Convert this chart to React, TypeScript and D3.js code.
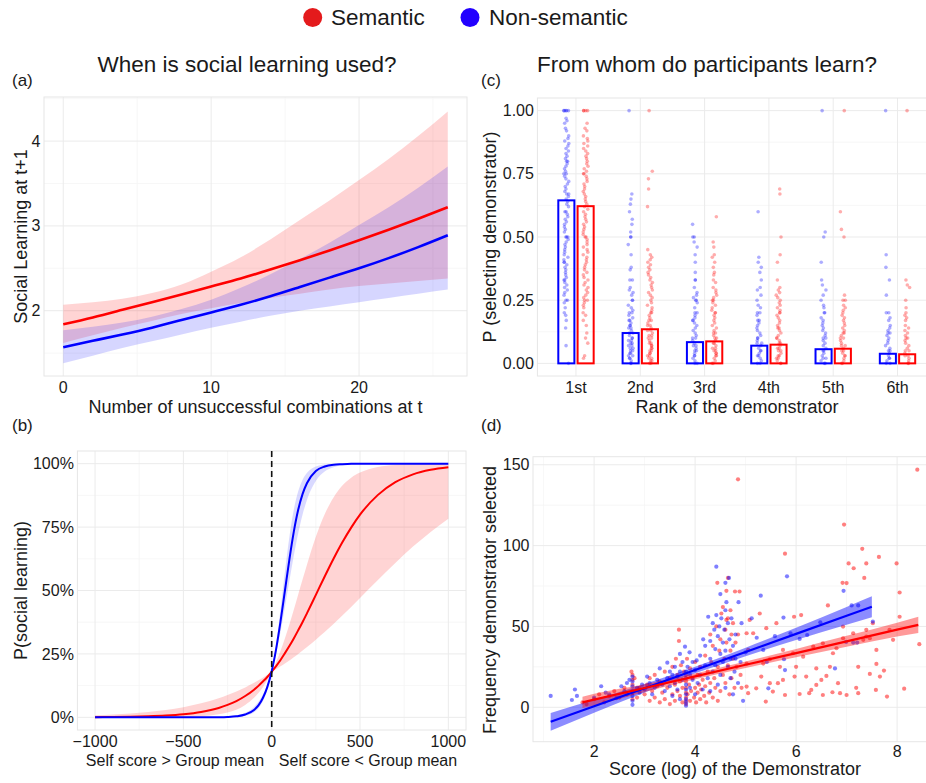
import React from 'react';
import * as d3 from 'd3';

const W = 926, H = 783;
const RED = '#ff0000', BLUE = '#0000ff';
const FONT = "'Liberation Sans', Arial, Helvetica, sans-serif";
const TXT = '#1a1a1a';
const GRID = '#ebebeb', GRID_MINOR = '#f5f5f5', BORDER = '#e6e6e6';

// ---------- legend / titles ----------
const legendLabels = ['Semantic', 'Non-semantic'];
const legendColors = ['#e41a1c', '#2200ff'];
const panelTitles = ['When is social learning used?', 'From whom do participants learn?'];

// ---------- (a) ----------
const aX = [0, 2, 4, 6, 8, 10, 12, 14, 16, 18, 20, 22, 24, 26];
const aRedFit = [1.84, 1.92, 2.01, 2.10, 2.19, 2.285, 2.38, 2.485, 2.595, 2.71, 2.83, 2.955, 3.085, 3.22];
const aRedLo = [1.62, 1.71, 1.80, 1.88, 1.96, 2.03, 2.09, 2.15, 2.20, 2.25, 2.29, 2.32, 2.35, 2.38];
const aRedHi = [2.07, 2.10, 2.14, 2.21, 2.31, 2.46, 2.63, 2.84, 3.07, 3.30, 3.54, 3.79, 4.06, 4.35];
const aBlueFit = [1.57, 1.645, 1.72, 1.80, 1.89, 1.98, 2.07, 2.17, 2.28, 2.39, 2.50, 2.62, 2.75, 2.89];
const aBlueLo = [1.38, 1.47, 1.56, 1.64, 1.72, 1.80, 1.87, 1.94, 2.00, 2.05, 2.10, 2.15, 2.20, 2.25];
const aBlueHi = [1.77, 1.81, 1.86, 1.93, 2.02, 2.13, 2.27, 2.43, 2.61, 2.80, 3.01, 3.22, 3.45, 3.70];
const aXTicks = [0, 10, 20];
const aYTicks = [2, 3, 4];

// ---------- (b) ----------
const bX = [-1000, -900, -800, -700, -600, -500, -400, -300, -250, -200, -150, -100, -75, -50, -25, 0, 25, 50, 75, 100, 125, 150, 175, 200, 250, 300, 350, 400, 450, 500, 600, 700, 800, 900, 1000];
const bRedFit = [0.0007, 0.0012, 0.0021, 0.0038, 0.0067, 0.0119, 0.021, 0.037, 0.049, 0.064, 0.084, 0.109, 0.124, 0.141, 0.159, 0.180, 0.202, 0.226, 0.253, 0.281, 0.311, 0.343, 0.376, 0.411, 0.483, 0.555, 0.625, 0.690, 0.748, 0.799, 0.876, 0.927, 0.958, 0.976, 0.986];
const bRedHi = [0.008, 0.011, 0.015, 0.021, 0.029, 0.040, 0.055, 0.075, 0.088, 0.102, 0.118, 0.136, 0.146, 0.156, 0.168, 0.180, 0.218, 0.262, 0.312, 0.366, 0.424, 0.484, 0.544, 0.603, 0.712, 0.801, 0.867, 0.914, 0.945, 0.965, 0.987, 0.995, 0.998, 0.999, 1.0];
const bRedLo = [0, 0, 0.0001, 0.0002, 0.0006, 0.0017, 0.0045, 0.0118, 0.019, 0.030, 0.049, 0.077, 0.096, 0.119, 0.146, 0.180, 0.190, 0.201, 0.212, 0.224, 0.237, 0.250, 0.263, 0.277, 0.306, 0.336, 0.368, 0.401, 0.435, 0.470, 0.540, 0.608, 0.673, 0.731, 0.783];
const bBlueFit = [0, 0, 0, 0, 0, 0, 0.0001, 0.0006, 0.0015, 0.0041, 0.011, 0.029, 0.047, 0.076, 0.119, 0.182, 0.269, 0.378, 0.5, 0.622, 0.731, 0.818, 0.881, 0.924, 0.971, 0.989, 0.996, 0.998, 0.9995, 1, 1, 1, 1, 1, 1];
const bBlueHi = [0, 0, 0, 0, 0, 0.0001, 0.0003, 0.0016, 0.0036, 0.0082, 0.018, 0.041, 0.061, 0.089, 0.129, 0.182, 0.289, 0.426, 0.574, 0.711, 0.818, 0.891, 0.937, 0.964, 0.989, 0.997, 0.999, 1, 1, 1, 1, 1, 1, 1, 1];
const bBlueLo = [0, 0, 0, 0, 0, 0, 0, 0.0002, 0.0006, 0.0018, 0.006, 0.020, 0.036, 0.063, 0.109, 0.182, 0.252, 0.337, 0.435, 0.537, 0.637, 0.726, 0.800, 0.858, 0.932, 0.969, 0.986, 0.994, 0.997, 0.999, 1, 1, 1, 1, 1];
const bXTicks = [-1000, -500, 0, 500, 1000];
const bYTicks = [0, 0.25, 0.5, 0.75, 1];
const bSideLabels = ['Self score > Group mean', 'Self score < Group mean'];

// ---------- (c) ----------
const cRanks = ['1st', '2nd', '3rd', '4th', '5th', '6th'];
const cBlueMean = [0.645, 0.12, 0.084, 0.07, 0.056, 0.038];
const cRedMean = [0.622, 0.135, 0.087, 0.074, 0.058, 0.036];
const cBluePts = [
  [1, 1, 1, 1, 1, 0.97, 0.96, 0.95, 0.93, 0.92, 0.9, 0.89, 0.88, 0.87, 0.86, 0.85, 0.84, 0.83, 0.82, 0.81, 0.8, 0.8, 0.79, 0.78, 0.77, 0.76, 0.75, 0.75, 0.74, 0.73, 0.72, 0.71, 0.7, 0.69, 0.68, 0.67, 0.67, 0.66, 0.65, 0.64, 0.63, 0.62, 0.6, 0.6, 0.59, 0.58, 0.57, 0.56, 0.55, 0.54, 0.53, 0.52, 0.5, 0.5, 0.5, 0.49, 0.48, 0.47, 0.46, 0.45, 0.44, 0.43, 0.42, 0.41, 0.4, 0.4, 0.39, 0.38, 0.37, 0.36, 0.35, 0.34, 0.33, 0.33, 0.32, 0.31, 0.3, 0.29, 0.28, 0.27, 0.25, 0.25, 0.24, 0.22, 0.2, 0.19, 0.17, 0.14, 0.07, 0],
  [1, 0.67, 0.65, 0.63, 0.6, 0.57, 0.55, 0.52, 0.5, 0.5, 0.47, 0.43, 0.38, 0.37, 0.33, 0.33, 0.3, 0.29, 0.28, 0.27, 0.25, 0.25, 0.23, 0.22, 0.21, 0.2, 0.2, 0.19, 0.18, 0.17, 0.17, 0.16, 0.15, 0.15, 0.14, 0.14, 0.13, 0.12, 0.12, 0.11, 0.1, 0.1, 0.09, 0.09, 0.08, 0.08, 0.07, 0.07, 0.06, 0.06, 0.05, 0.05, 0.04, 0.04, 0.03, 0.03, 0.02, 0.02, 0.01, 0, 0],
  [0.55, 0.5, 0.5, 0.48, 0.46, 0.43, 0.4, 0.36, 0.33, 0.33, 0.3, 0.28, 0.27, 0.26, 0.25, 0.25, 0.24, 0.22, 0.2, 0.2, 0.19, 0.18, 0.17, 0.17, 0.16, 0.15, 0.14, 0.13, 0.12, 0.11, 0.1, 0.1, 0.09, 0.08, 0.07, 0.07, 0.06, 0.05, 0.05, 0.04, 0.03, 0.03, 0.02, 0.01, 0, 0],
  [0.6, 0.42, 0.4, 0.38, 0.36, 0.33, 0.3, 0.29, 0.27, 0.25, 0.23, 0.22, 0.2, 0.2, 0.19, 0.17, 0.17, 0.16, 0.15, 0.14, 0.13, 0.12, 0.11, 0.1, 0.1, 0.09, 0.08, 0.08, 0.07, 0.06, 0.05, 0.05, 0.04, 0.03, 0.03, 0.02, 0.01, 0, 0],
  [1, 0.52, 0.5, 0.4, 0.33, 0.31, 0.29, 0.27, 0.25, 0.23, 0.22, 0.2, 0.2, 0.18, 0.17, 0.16, 0.15, 0.14, 0.13, 0.12, 0.11, 0.1, 0.1, 0.09, 0.08, 0.07, 0.06, 0.05, 0.05, 0.04, 0.03, 0.02, 0.02, 0.01, 0, 0],
  [1, 0.43, 0.38, 0.33, 0.27, 0.2, 0.2, 0.18, 0.17, 0.15, 0.14, 0.13, 0.12, 0.12, 0.11, 0.1, 0.09, 0.08, 0.07, 0.06, 0.05, 0.05, 0.04, 0.03, 0.02, 0.02, 0.01, 0, 0],
];
const cRedPts = [
  [1, 1, 1, 1, 0.95, 0.93, 0.92, 0.9, 0.89, 0.88, 0.87, 0.86, 0.85, 0.84, 0.83, 0.82, 0.81, 0.8, 0.79, 0.78, 0.77, 0.76, 0.75, 0.75, 0.74, 0.73, 0.72, 0.71, 0.7, 0.69, 0.68, 0.67, 0.66, 0.65, 0.64, 0.63, 0.62, 0.61, 0.6, 0.59, 0.58, 0.57, 0.56, 0.55, 0.54, 0.53, 0.52, 0.51, 0.5, 0.5, 0.49, 0.48, 0.47, 0.46, 0.45, 0.44, 0.43, 0.42, 0.41, 0.4, 0.39, 0.38, 0.37, 0.36, 0.35, 0.34, 0.33, 0.32, 0.31, 0.3, 0.29, 0.28, 0.27, 0.26, 0.25, 0.25, 0.24, 0.23, 0.22, 0.2, 0.19, 0.17, 0.15, 0.12, 0.1, 0.08, 0.03, 0.02],
  [1, 0.76, 0.73, 0.69, 0.62, 0.45, 0.43, 0.42, 0.41, 0.4, 0.39, 0.38, 0.37, 0.36, 0.35, 0.34, 0.33, 0.32, 0.31, 0.3, 0.29, 0.28, 0.27, 0.26, 0.25, 0.24, 0.23, 0.22, 0.21, 0.2, 0.2, 0.19, 0.18, 0.17, 0.17, 0.16, 0.15, 0.15, 0.14, 0.13, 0.13, 0.12, 0.11, 0.11, 0.1, 0.1, 0.09, 0.08, 0.08, 0.07, 0.07, 0.06, 0.06, 0.05, 0.05, 0.04, 0.04, 0.03, 0.03, 0.02, 0.02, 0.01, 0.01, 0, 0],
  [0.58, 0.48, 0.46, 0.43, 0.42, 0.4, 0.38, 0.36, 0.35, 0.33, 0.32, 0.3, 0.29, 0.28, 0.27, 0.26, 0.25, 0.25, 0.24, 0.23, 0.22, 0.21, 0.2, 0.2, 0.19, 0.18, 0.17, 0.16, 0.15, 0.14, 0.13, 0.12, 0.12, 0.11, 0.1, 0.1, 0.09, 0.08, 0.08, 0.07, 0.06, 0.06, 0.05, 0.05, 0.04, 0.04, 0.03, 0.03, 0.02, 0.01, 0, 0],
  [0.69, 0.67, 0.5, 0.43, 0.4, 0.33, 0.3, 0.29, 0.28, 0.27, 0.26, 0.25, 0.24, 0.23, 0.22, 0.21, 0.2, 0.2, 0.19, 0.18, 0.17, 0.16, 0.15, 0.14, 0.14, 0.13, 0.12, 0.11, 0.1, 0.1, 0.09, 0.08, 0.08, 0.07, 0.06, 0.06, 0.05, 0.05, 0.04, 0.03, 0.03, 0.02, 0.02, 0.01, 0, 0],
  [1, 0.6, 0.53, 0.5, 0.27, 0.25, 0.25, 0.23, 0.22, 0.21, 0.2, 0.19, 0.18, 0.17, 0.16, 0.15, 0.14, 0.13, 0.12, 0.12, 0.11, 0.1, 0.1, 0.09, 0.08, 0.07, 0.07, 0.06, 0.05, 0.05, 0.04, 0.03, 0.03, 0.02, 0.01, 0, 0],
  [1, 0.33, 0.31, 0.3, 0.25, 0.22, 0.2, 0.19, 0.18, 0.17, 0.15, 0.14, 0.13, 0.12, 0.11, 0.1, 0.1, 0.09, 0.08, 0.07, 0.06, 0.05, 0.05, 0.04, 0.03, 0.03, 0.02, 0.01, 0, 0],
];
const cYTicks = [0, 0.25, 0.5, 0.75, 1];

// ---------- (d) ----------
const dBluePts: [number, number][] = [
  [1.14, 7], [1.56, 4.5], [1.62, 11], [1.66, 7], [2.0, 6], [2.14, 13], [2.23, 9], [2.3, 8], [2.44, 5.6], [2.54, 13], [2.6, 10], [2.65, 15], [2.7, 17],
  [2.76, 1.5], [2.76, 4], [2.76, 7], [2.76, 10], [2.76, 13], [2.76, 16], [2.76, 19],
  [2.85, 12], [2.9, 9], [2.95, 14], [3.0, 11], [3.05, 19], [3.1, 15], [3.15, 8], [3.2, 12], [3.25, 17], [3.3, 24], [3.35, 14], [3.4, 10], [3.45, 27.6], [3.45, 18], [3.5, 22], [3.5, 13], [3.55, 7], [3.55, 20], [3.6, 15], [3.6, 25], [3.65, 11], [3.65, 19], [3.7, 33], [3.7, 22], [3.7, 5], [3.75, 17], [3.75, 28],
  [3.82, 1], [3.82, 3], [3.82, 5], [3.82, 8], [3.82, 11], [3.82, 14], [3.82, 18], [3.82, 22],
  [3.8, 37.5], [3.85, 25], [3.89, 34], [3.9, 20], [3.9, 12], [3.95, 17], [3.95, 28], [4.0, 23], [4.0, 8], [4.03, 29], [4.05, 15], [4.1, 32], [4.1, 20], [4.15, 11], [4.16, 42], [4.2, 26], [4.2, 38], [4.25, 18], [4.26, 56], [4.3, 41], [4.3, 30], [4.3, 10], [4.35, 52], [4.35, 22], [4.38, 48], [4.4, 36], [4.4, 26], [4.42, 87], [4.42, 57], [4.45, 44], [4.45, 14], [4.48, 50], [4.5, 70], [4.5, 33], [4.5, 20], [4.52, 55], [4.55, 40], [4.55, 28], [4.58, 48], [4.6, 77], [4.6, 60], [4.6, 35], [4.6, 12], [4.62, 65], [4.65, 52], [4.65, 25], [4.67, 80], [4.68, 42], [4.7, 30], [4.7, 18], [4.72, 55], [4.75, 38], [4.75, 8], [4.78, 22], [4.8, 45], [4.8, 30], [4.85, 15], [4.86, 65], [4.9, 28], [4.92, 52], [4.95, 4], [5.0, 34],
  [5.12, 55], [5.22, 43], [5.3, 69], [5.35, 35.5], [5.42, 28], [5.45, 11.7], [5.58, 44], [5.75, 55.5], [5.76, 29.7], [5.78, 23], [5.82, 81], [5.89, 45.8], [6.07, 42.3], [6.22, 44.7], [6.48, 52.6], [6.77, 24], [6.94, 72], [6.99, 40.4], [7.1, 63], [7.13, 40], [7.21, 40], [7.23, 63], [7.52, 53],
];
const dRedPts: [number, number][] = [
  [1.77, 3], [1.85, 2], [2.0, 5], [2.1, 8], [2.2, 3], [2.3, 7], [2.4, 10], [2.5, 6], [2.6, 12], [2.65, 8],
  [2.76, 5], [2.76, 9], [2.76, 14], [2.76, 17], [2.76, 20], [2.74, 22], [2.8, 18],
  [2.85, 6], [2.9, 12], [3.0, 8], [3.05, 14], [3.1, 4], [3.1, 18], [3.15, 10], [3.2, 6], [3.2, 20], [3.25, 13], [3.3, 3], [3.3, 16], [3.35, 9], [3.4, 22], [3.4, 5], [3.45, 12], [3.5, 2], [3.5, 18], [3.55, 8], [3.55, 25], [3.6, 14], [3.6, 4], [3.62, 30], [3.65, 10], [3.65, 20], [3.68, 48], [3.68, 41], [3.7, 7], [3.7, 16], [3.72, 26], [3.75, 3], [3.75, 12], [3.78, 22],
  [3.82, 2], [3.82, 4], [3.82, 6], [3.82, 9], [3.82, 12], [3.82, 16], [3.82, 20],
  [3.84, 30], [3.85, 8], [3.88, 14], [3.9, 4], [3.9, 24], [3.92, 10], [3.95, 18], [3.98, 6], [4.0, 12], [4.0, 28], [4.02, 3], [4.05, 9], [4.05, 20], [4.08, 14], [4.1, 5], [4.1, 25], [4.12, 11], [4.15, 17], [4.18, 7], [4.2, 32], [4.2, 13], [4.22, 3], [4.25, 22], [4.28, 9], [4.3, 15], [4.3, 45], [4.32, 28], [4.35, 6], [4.35, 38], [4.38, 18], [4.4, 12], [4.42, 50], [4.44, 77], [4.45, 25], [4.45, 4], [4.48, 35], [4.5, 42], [4.5, 10], [4.52, 58], [4.55, 62], [4.55, 20], [4.58, 30], [4.6, 48], [4.6, 15], [4.62, 72], [4.62, 40], [4.62, 54], [4.65, 80], [4.65, 26], [4.65, 55], [4.68, 8], [4.7, 35], [4.7, 60], [4.72, 45], [4.72, 18], [4.75, 52], [4.75, 30], [4.78, 12], [4.79, 71.6], [4.8, 40], [4.82, 25], [4.85, 45], [4.85, 141], [4.88, 71.6], [4.9, 20], [4.92, 12],
  [5.02, 12.8], [5.02, 45.8], [5.02, 27], [5.05, 8.7], [5.05, 35.5], [5.08, 54], [5.15, 45.8], [5.21, 11.7], [5.28, 58], [5.31, 19], [5.35, 27], [5.4, 3.5], [5.41, 48.9], [5.48, 14.9], [5.48, 29.7], [5.54, 9.7], [5.61, 52], [5.64, 14.9], [5.68, 25], [5.74, 16.9], [5.74, 35.5], [5.78, 7.6], [5.78, 95], [5.94, 33.4], [5.96, 56], [5.97, 19], [6.0, 25], [6.07, 8.2], [6.1, 57], [6.14, 31.3], [6.2, 19], [6.26, 8.7], [6.3, 10.7], [6.34, 37.5], [6.4, 13.8], [6.4, 24], [6.5, 16.9], [6.53, 39.6], [6.53, 7.6], [6.6, 19.4], [6.63, 63], [6.67, 25], [6.72, 9.3], [6.73, 33.4], [6.8, 36.5], [6.83, 14.9], [6.87, 8.7], [6.92, 77], [6.93, 42.7], [6.93, 49.9], [6.95, 113], [7.0, 7.6], [7.0, 76.8], [7.04, 89], [7.13, 45.8], [7.14, 86], [7.19, 12], [7.23, 8.7], [7.23, 25], [7.31, 98], [7.33, 41.7], [7.35, 80], [7.39, 89], [7.39, 47.9], [7.39, 43.7], [7.46, 20.6], [7.46, 42.7], [7.52, 52], [7.58, 10.7], [7.59, 35.5], [7.59, 26.8], [7.64, 93], [7.66, 19], [7.74, 22.7], [7.8, 6.6], [7.85, 47.9], [7.92, 41.7], [7.99, 89], [8.05, 71], [8.05, 56], [8.14, 11.5], [8.4, 147], [8.44, 39],
];
const dBlueFitX = [1.14, 2, 3, 4, 5, 6, 7, 7.5];
const dBlueFit = [-9, 0.6, 11.8, 23.0, 34.2, 45.4, 56.6, 62.2];
const dBlueLo = [-14.5, -3.4, 9.2, 21.0, 31.6, 41.6, 51.1, 55.7];
const dBlueHi = [-3.5, 4.6, 14.4, 25.0, 36.8, 49.2, 62.1, 68.7];
const dRedFitX = [1.77, 2, 3, 4, 5, 6, 7, 8, 8.42];
const dRedFit = [3.0, 4.7, 11.9, 19.1, 26.3, 33.5, 40.8, 48.0, 51.0];
const dRedLo = [-0.5, 1.1, 9.5, 17.3, 24.3, 30.9, 37.4, 43.7, 46.0];
const dRedHi = [6.5, 8.3, 14.3, 20.9, 28.3, 36.1, 44.2, 52.3, 56.0];
const dXTicks = [2, 4, 6, 8];
const dYTicks = [0, 50, 100, 150];

type Sc = d3.ScaleLinear<number, number>;

// deterministic horizontal jitter (pixel offset, purely visual)
function jitter(i: number, r: number) {
  const s = Math.sin(i * 12.9898 + r * 78.233) * 43758.5453;
  return (s - Math.floor(s) - 0.5) * 5;
}

function Frame({ x, y, xMajor, xMinor, yMajor, yMinor }: { x: Sc; y: Sc; xMajor: number[]; xMinor: number[]; yMajor: number[]; yMinor: number[] }) {
  const [x0, x1] = x.range();
  const [y0, y1] = y.range();
  return (
    <g>
      {xMinor.map((v, i) => <line key={'xm' + i} x1={x(v)} x2={x(v)} y1={y0} y2={y1} stroke={GRID_MINOR} strokeWidth={0.8} />)}
      {yMinor.map((v, i) => <line key={'ym' + i} x1={x0} x2={x1} y1={y(v)} y2={y(v)} stroke={GRID_MINOR} strokeWidth={0.8} />)}
      {xMajor.map((v, i) => <line key={'xM' + i} x1={x(v)} x2={x(v)} y1={y0} y2={y1} stroke={GRID} strokeWidth={1} />)}
      {yMajor.map((v, i) => <line key={'yM' + i} x1={x0} x2={x1} y1={y(v)} y2={y(v)} stroke={GRID} strokeWidth={1} />)}
      <rect x={x0} y={y1} width={x1 - x0} height={y0 - y1} fill="none" stroke={BORDER} strokeWidth={1} />
    </g>
  );
}

function YTicks({ x, y, ticks, labels }: { x: Sc; y: Sc; ticks: number[]; labels: string[] }) {
  const left = x.range()[0];
  return (
    <g>
      {ticks.map((t, i) => (
        <text key={i} x={left - 3.5} y={y(t)} dy="0.35em" textAnchor="end" fontSize={16} fill={TXT} fontFamily={FONT}>{labels[i]}</text>
      ))}
    </g>
  );
}

function XTicks({ x, ticks, labels, baseline }: { x: (v: number) => number; ticks: number[]; labels: string[]; baseline: number }) {
  return (
    <g>
      {ticks.map((t, i) => (
        <text key={i} x={x(t)} y={baseline} textAnchor="middle" fontSize={16} fill={TXT} fontFamily={FONT}>{labels[i]}</text>
      ))}
    </g>
  );
}

function YTitle({ x, y, text }: { x: number; y: number; text: string }) {
  return <text transform={`translate(${x},${y}) rotate(-90)`} textAnchor="middle" fontSize={18} fill={TXT} fontFamily={FONT}>{text}</text>;
}

function PanelA() {
  const x = d3.scaleLinear().domain([-1.3, 27.3]).range([44, 467]);
  const y = d3.scaleLinear().domain([1.23, 4.52]).range([376, 97]);
  const line = (vals: number[]) => d3.line<number>().x((_, i) => x(aX[i])).y((d) => y(d)).curve(d3.curveNatural)(vals) || '';
  const area = (lo: number[], hi: number[]) => d3.area<number>().x((_, i) => x(aX[i])).y0((_, i) => y(lo[i])).y1((_, i) => y(hi[i])).curve(d3.curveMonotoneX)(lo) || '';
  return (
    <g>
      <Frame x={x} y={y} xMajor={aXTicks} xMinor={[5, 15, 25]} yMajor={aYTicks} yMinor={[1.5, 2.5, 3.5, 4.5]} />
      <path d={area(aRedLo, aRedHi)} fill={RED} fillOpacity={0.17} />
      <path d={area(aBlueLo, aBlueHi)} fill={BLUE} fillOpacity={0.16} />
      <path d={line(aRedFit)} fill="none" stroke={RED} strokeWidth={2.6} />
      <path d={line(aBlueFit)} fill="none" stroke={BLUE} strokeWidth={2.6} />
      <YTicks x={x} y={y} ticks={aYTicks} labels={aYTicks.map(String)} />
      <XTicks x={x} ticks={aXTicks} labels={aXTicks.map(String)} baseline={393} />
      <text x={x(13)} y={413} textAnchor="middle" fontSize={18} fill={TXT} fontFamily={FONT}>Number of unsuccessful combinations at t</text>
      <YTitle x={26.5} y={(97 + 376) / 2} text="Social Learning at t+1" />
    </g>
  );
}

function PanelB() {
  const x = d3.scaleLinear().domain([-1100, 1100]).range([77.4, 466]);
  const y = d3.scaleLinear().domain([-0.05, 1.05]).range([730, 451]);
  const line = (vals: number[]) => d3.line<number>().x((_, i) => x(bX[i])).y((d) => y(d)).curve(d3.curveMonotoneX)(vals) || '';
  const area = (lo: number[], hi: number[]) => d3.area<number>().x((_, i) => x(bX[i])).y0((_, i) => y(lo[i])).y1((_, i) => y(hi[i])).curve(d3.curveMonotoneX)(lo) || '';
  return (
    <g>
      <Frame x={x} y={y} xMajor={bXTicks} xMinor={[-750, -250, 250, 750]} yMajor={bYTicks} yMinor={[0.125, 0.375, 0.625, 0.875]} />
      <path d={area(bRedLo, bRedHi)} fill={RED} fillOpacity={0.17} />
      <path d={area(bBlueLo, bBlueHi)} fill={BLUE} fillOpacity={0.15} />
      <path d={line(bRedFit)} fill="none" stroke={RED} strokeWidth={2} />
      <path d={line(bBlueFit)} fill="none" stroke={BLUE} strokeWidth={2} />
      <line x1={x(0)} x2={x(0)} y1={451} y2={730} stroke="#111" strokeWidth={1.6} strokeDasharray="6,4" />
      <YTicks x={x} y={y} ticks={bYTicks} labels={bYTicks.map((t) => d3.format('.0%')(t))} />
      <XTicks x={x} ticks={bXTicks} labels={bXTicks.map((t) => d3.format('')(t).replace('-', '\u2212'))} baseline={747} />
      <text x={175} y={765.5} textAnchor="middle" fontSize={16} fill={TXT} fontFamily={FONT}>{bSideLabels[0]}</text>
      <text x={368} y={765.5} textAnchor="middle" fontSize={16} fill={TXT} fontFamily={FONT}>{bSideLabels[1]}</text>
      <YTitle x={26.5} y={(451 + 730) / 2} text="P(social learning)" />
    </g>
  );
}

function PanelC() {
  const x = d3.scaleLinear().domain([0.4, 6.6]).range([537.4, 936.1]);
  const y = d3.scaleLinear().domain([-0.05, 1.05]).range([376, 98]);
  const dodge = 0.15, bw = 0.25;
  const groups = [
    { pts: cBluePts, mean: cBlueMean, color: BLUE, off: -dodge },
    { pts: cRedPts, mean: cRedMean, color: RED, off: dodge },
  ];
  return (
    <g>
      <Frame x={x} y={y} xMajor={[1, 2, 3, 4, 5, 6]} xMinor={[]} yMajor={cYTicks} yMinor={[0.125, 0.375, 0.625, 0.875]} />
      {groups.map((g, gi) => (
        <g key={gi}>
          {g.pts.map((arr, r) => arr.map((v, i) => (
            <circle key={r + '-' + i} cx={x(r + 1 + g.off) + jitter(i, r + gi * 7)} cy={y(v)} r={1.8} fill={g.color} fillOpacity={0.32} />
          )))}
          {g.mean.map((m, r) => (
            <rect key={'b' + r} x={x(r + 1 + g.off - bw / 2)} y={y(m)} width={x(r + 1 + g.off + bw / 2) - x(r + 1 + g.off - bw / 2)} height={y(0) - y(m)} fill="none" stroke={g.color} strokeWidth={2} />
          ))}
        </g>
      ))}
      <YTicks x={x} y={y} ticks={cYTicks} labels={cYTicks.map((t) => d3.format('.2f')(t))} />
      <XTicks x={(v) => x(v)} ticks={[1, 2, 3, 4, 5, 6]} labels={cRanks} baseline={393} />
      <text x={737} y={413} textAnchor="middle" fontSize={18} fill={TXT} fontFamily={FONT}>Rank of the demonstrator</text>
      <YTitle x={496} y={237} text="P (selecting demonstrator)" />
    </g>
  );
}

function PanelD() {
  const x = d3.scaleLinear().domain([0.79, 8.81]).range([533, 938]);
  const y = d3.scaleLinear().domain([-21.3, 155]).range([741.7, 456.7]);
  const line = (xs: number[], vals: number[]) => d3.line<number>().x((_, i) => x(xs[i])).y((d) => y(d))(vals) || '';
  const area = (xs: number[], lo: number[], hi: number[]) => d3.area<number>().x((_, i) => x(xs[i])).y0((_, i) => y(lo[i])).y1((_, i) => y(hi[i])).curve(d3.curveMonotoneX)(lo) || '';
  return (
    <g>
      <Frame x={x} y={y} xMajor={dXTicks} xMinor={[1, 3, 5, 7]} yMajor={dYTicks} yMinor={[25, 75, 125]} />
      {dRedPts.map((p, i) => <circle key={'r' + i} cx={x(p[0])} cy={y(p[1])} r={2.1} fill={RED} fillOpacity={0.5} />)}
      {dBluePts.map((p, i) => <circle key={'b' + i} cx={x(p[0])} cy={y(p[1])} r={2.1} fill={BLUE} fillOpacity={0.5} />)}
      <path d={area(dBlueFitX, dBlueLo, dBlueHi)} fill={BLUE} fillOpacity={0.45} />
      <path d={area(dRedFitX, dRedLo, dRedHi)} fill={RED} fillOpacity={0.4} />
      <path d={line(dBlueFitX, dBlueFit)} fill="none" stroke={BLUE} strokeWidth={2.2} />
      <path d={line(dRedFitX, dRedFit)} fill="none" stroke={RED} strokeWidth={2.2} />
      <YTicks x={x} y={y} ticks={dYTicks} labels={dYTicks.map(String)} />
      <XTicks x={x} ticks={dXTicks} labels={dXTicks.map(String)} baseline={757} />
      <text x={735} y={775} textAnchor="middle" fontSize={18} fill={TXT} fontFamily={FONT}>Score (log) of the Demonstrator</text>
      <YTitle x={496} y={600} text="Frequency demonstrator selected" />
    </g>
  );
}

export default function App() {
  return (
    <svg width={W} height={H} style={{ position: 'absolute', left: 0, top: 0, background: '#fff' }} fontFamily={FONT}>
      <rect x={0} y={0} width={W} height={H} fill="#fff" />
      <circle cx={312.7} cy={17.5} r={9.5} fill={legendColors[0]} />
      <text x={331} y={25} fontSize={22.5} fill={TXT}>{legendLabels[0]}</text>
      <circle cx={470} cy={17.5} r={9.5} fill={legendColors[1]} />
      <text x={489} y={25} fontSize={22.5} fill={TXT}>{legendLabels[1]}</text>
      <text x={247} y={71.5} textAnchor="middle" fontSize={22.5} fill={TXT}>{panelTitles[0]}</text>
      <text x={707} y={71.5} textAnchor="middle" fontSize={22.5} fill={TXT}>{panelTitles[1]}</text>
      <text x={12} y={86} fontSize={17} fill={TXT}>(a)</text>
      <text x={481} y={86} fontSize={17} fill={TXT}>(c)</text>
      <text x={12} y={431} fontSize={17} fill={TXT}>(b)</text>
      <text x={481} y={431} fontSize={17} fill={TXT}>(d)</text>
      <PanelA />
      <PanelB />
      <PanelC />
      <PanelD />
    </svg>
  );
}
